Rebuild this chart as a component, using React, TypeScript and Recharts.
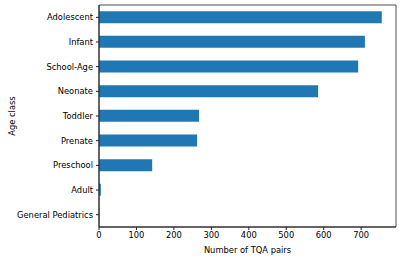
import { BarChart, Bar, XAxis, YAxis, ReferenceArea } from 'recharts';

const ageClasses = [
    'Adolescent',
    'Infant',
    'School-Age',
    'Neonate',
    'Toddler',
    'Prenate',
    'Preschool',
    'Adult',
    'General Pediatrics',
];
const pairCounts = [755, 710, 692, 585, 267, 262, 142, 5, 1];
const xTicks = [0, 100, 200, 300, 400, 500, 600, 700];
const xMax = 793;

const FONT = '"DejaVu Sans", sans-serif';
const INK = '#222';

// plain tick so long names are not wrapped onto two lines
const CategoryTick = ({ x, y, payload }: any) => (
    <text x={x} y={y} textAnchor="end" dominantBaseline="central" fontSize={8.33} fill="#000" fontFamily={FONT}>
        {payload.value}
    </text>
);

export default function App() {
    const data = ageClasses.map((name, i) => ({ name, count: pairCounts[i] }));

    return (
        <div style={{ position: 'absolute', left: 0, top: 0, background: '#fff', fontFamily: FONT }}>
            <BarChart
                width={403}
                height={259}
                data={data}
                layout="vertical"
                margin={{ top: 5, right: 7, bottom: 0, left: 0 }}
                barCategoryGap="25%"
            >
                <XAxis
                    type="number"
                    domain={[0, xMax]}
                    ticks={xTicks}
                    height={32}
                    tickSize={3}
                    tickMargin={2}
                    stroke={INK}
                    tick={{ fontSize: 8.33, fill: '#000', fontFamily: FONT }}
                    label={{
                        value: 'Number of TQA pairs',
                        position: 'insideBottom',
                        offset: 6,
                        style: { fontSize: 8.33, fill: '#000', fontFamily: FONT },
                    }}
                />
                <YAxis
                    type="category"
                    dataKey="name"
                    width={99}
                    tickSize={3}
                    tickMargin={3}
                    stroke={INK}
                    interval={0}
                    tick={<CategoryTick />}
                    label={{
                        value: 'Age class',
                        angle: -90,
                        position: 'insideLeft',
                        offset: 12,
                        style: { fontSize: 8.33, fill: '#000', fontFamily: FONT, textAnchor: 'middle' },
                    }}
                />
                <Bar dataKey="count" fill="#1f77b4" isAnimationActive={false} />
                <ReferenceArea x1={0} x2={xMax} fill="none" stroke={INK} strokeWidth={0.8} ifOverflow="visible" />
            </BarChart>
        </div>
    );
}
